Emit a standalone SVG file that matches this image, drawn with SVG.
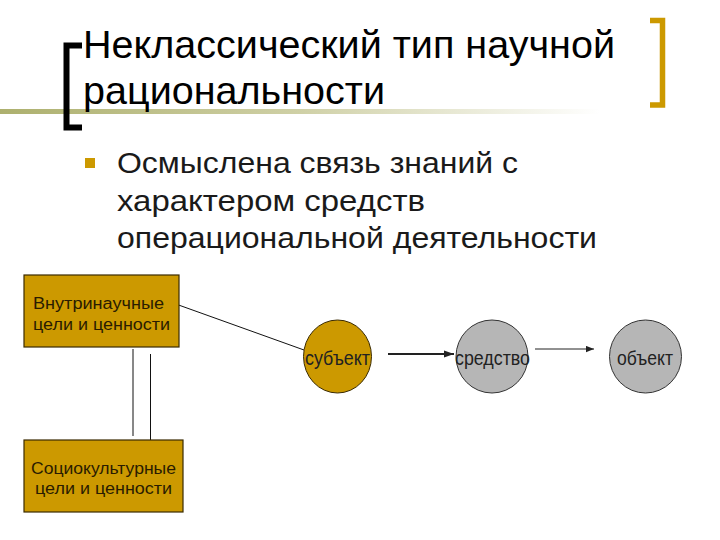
<svg xmlns="http://www.w3.org/2000/svg" width="720" height="540" viewBox="0 0 720 540">
<defs>
<linearGradient id="rule" x1="0" y1="0" x2="1" y2="0">
<stop offset="0" stop-color="#adb06e"/>
<stop offset="0.5" stop-color="#cfd0a6"/>
<stop offset="1" stop-color="#ffffff"/>
</linearGradient>
<marker id="arr" viewBox="0 0 10 10" refX="10" refY="5" markerWidth="10" markerHeight="8" orient="auto" markerUnits="userSpaceOnUse" preserveAspectRatio="none">
<path d="M0,0.5 L10,5 L0,9.5 Z" fill="#222"/>
</marker>
<marker id="arrS" viewBox="0 0 10 10" refX="10" refY="5" markerWidth="8" markerHeight="7" orient="auto" markerUnits="userSpaceOnUse" preserveAspectRatio="none">
<path d="M0,0.5 L10,5 L0,9.5 Z" fill="#222"/>
</marker>
</defs>
<style>
text{font-family:"Liberation Sans",Arial,sans-serif;fill:#000}
.title{font-size:39px}
.bul{font-size:30px;fill:#1a1a1a}
.lbl{font-size:16px;fill:#2a1c00}
.node{font-size:21px;fill:#222}
.box{fill:#cc9900;stroke:#3a2a00;stroke-width:1.2}
.gold{fill:#cc9900;stroke:#3a2a00;stroke-width:1}
.gray{fill:#b6b6b6;stroke:#333;stroke-width:1}
.ln{stroke:#111;stroke-width:1;fill:none}
</style>
<rect width="720" height="540" fill="#fff"/>
<rect x="0" y="109" width="600" height="5" fill="url(#rule)"/>
<path d="M82,45.5 H66.5 V127.5 H82" fill="none" stroke="#000" stroke-width="6"/>
<path d="M650,20.5 H662.5 V105 H650" fill="none" stroke="#cc9900" stroke-width="5.5"/>
<g id="title">
<text class="title" x="83" y="58" textLength="532" lengthAdjust="spacingAndGlyphs">Неклассический тип научной</text>
<text class="title" x="83" y="104" textLength="302" lengthAdjust="spacingAndGlyphs">рациональности</text>
</g>
<g id="bullet">
<rect x="85" y="158" width="10" height="10" fill="#cc9900"/>
<text class="bul" x="117" y="173" textLength="401" lengthAdjust="spacingAndGlyphs">Осмыслена связь знаний с</text>
<text class="bul" x="117" y="211" textLength="308" lengthAdjust="spacingAndGlyphs">характером средств</text>
<text class="bul" x="117" y="248" textLength="480" lengthAdjust="spacingAndGlyphs">операциональной деятельности</text>
</g>
<g id="connectors">
<line class="ln" x1="173" y1="303" x2="304" y2="350"/>
<line class="ln" x1="133" y1="349" x2="133" y2="436"/>
<line class="ln" x1="150.5" y1="354" x2="150.5" y2="440"/>
<line x1="388" y1="354" x2="454" y2="354" stroke="#222" stroke-width="2" marker-end="url(#arr)"/>
<line x1="535" y1="349" x2="594" y2="349" stroke="#222" stroke-width="1" marker-end="url(#arrS)"/>
</g>
<g id="inner">
<rect class="box" x="24" y="275" width="155" height="72"/>
<text class="lbl" x="33" y="309" textLength="131" lengthAdjust="spacingAndGlyphs">Внутринаучные</text>
<text class="lbl" x="33" y="330" textLength="137" lengthAdjust="spacingAndGlyphs">цели и ценности</text>
</g>
<g id="socio">
<rect class="box" x="24" y="440" width="159" height="72"/>
<text class="lbl" x="31" y="474" textLength="145" lengthAdjust="spacingAndGlyphs">Социокультурные</text>
<text class="lbl" x="35" y="494" textLength="137" lengthAdjust="spacingAndGlyphs">цели и ценности</text>
</g>
<g id="subject">
<ellipse class="gold" cx="337.5" cy="356.5" rx="34" ry="36.5"/>
<text class="node" x="305" y="365" textLength="65" lengthAdjust="spacingAndGlyphs">субъект</text>
</g>
<g id="means">
<ellipse class="gray" cx="492" cy="356.5" rx="36" ry="36.5"/>
<text class="node" x="455" y="365" textLength="75" lengthAdjust="spacingAndGlyphs">средство</text>
</g>
<g id="object">
<ellipse class="gray" cx="645.5" cy="356.5" rx="36" ry="36.5"/>
<text class="node" x="617" y="365" textLength="56" lengthAdjust="spacingAndGlyphs">объект</text>
</g>
</svg>
